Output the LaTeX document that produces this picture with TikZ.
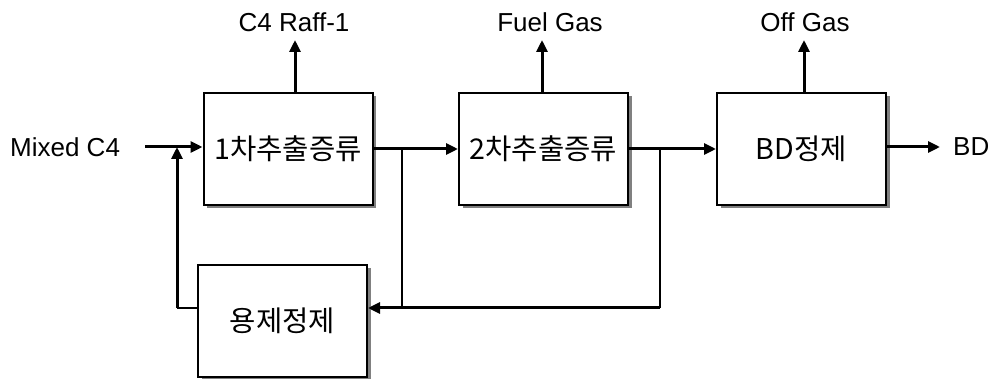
\documentclass[tikz,border=0pt]{standalone}
\usepackage{fontspec}
\setmainfont{Liberation Sans}
\newfontfamily\kr[Scale=1.1]{Noto Sans CJK KR}
\usetikzlibrary{arrows.meta,shadows}
\tikzset{
  procbox/.style={draw, line width=2pt, fill=white, minimum width=169pt, minimum height=112pt,
    inner sep=0pt, font=\fontsize{26}{30}\selectfont\kr,
    drop shadow={shadow xshift=3.5pt, shadow yshift=-3.5pt, fill=black!50, opacity=1}},
  lbl/.style={font=\fontsize{26}{30}\selectfont, inner sep=0pt},
  flow/.style={line width=3pt, -{Triangle[length=12pt,width=11pt]}},
  thinline/.style={line width=1.6pt},
}
\begin{document}
\begin{tikzpicture}[x=1pt,y=-1pt]
\useasboundingbox (0,0) rectangle (996,379);
% boxes
\node[procbox] (b1) at (288,149) {1차추출증류};
\node[procbox] (b2) at (543.5,149) {2차추출증류};
\node[procbox] (b3) at (801.5,149) {BD정제};
\node[procbox] (sv) at (282.5,321) {용제정제};
% labels
\node[lbl, anchor=base] (raff) at (294,32) {C4 Raff-1};
\node[lbl, anchor=base] (fuel) at (550,32) {Fuel Gas};
\node[lbl, anchor=base] (off) at (805,32) {Off Gas};
\node[lbl, anchor=west] (mix) at (10,147) {Mixed C4};
\node[lbl, anchor=west] (bd) at (953,147) {BD};
% coordinates
\coordinate (min) at (145,147);
\coordinate (bdo) at (940,147);
\coordinate (j1) at (402,149);
\coordinate (j2) at (660,149);
\coordinate (rb) at (660,308);
\coordinate (fl) at (177,308);
\coordinate (ft) at (177,147);
\coordinate (r1) at (295,40);
\coordinate (r2) at (542,40);
\coordinate (r3) at (804,40);
% main flow
\draw[flow] (min) -- (min -| b1.west);
\draw[flow] (b1.east) -- (b2.west);
\draw[flow] (b2.east) -- (b3.west);
\draw[flow] (b3.east |- bdo) -- (bdo);
% vents
\draw[flow] (r1 |- b1.north) -- (r1);
\draw[flow] (r2 |- b2.north) -- (r2);
\draw[flow] (r3 |- b3.north) -- (r3);
% recycle
\draw[thinline] (j1) -- (j1 |- rb);
\draw[thinline] (j2) -- (rb);
\draw[flow] (rb) -- (rb -| sv.east);
\draw[thinline] (fl -| sv.west) -- (fl);
\draw[flow] (fl) -- (ft);
\end{tikzpicture}
\end{document}
